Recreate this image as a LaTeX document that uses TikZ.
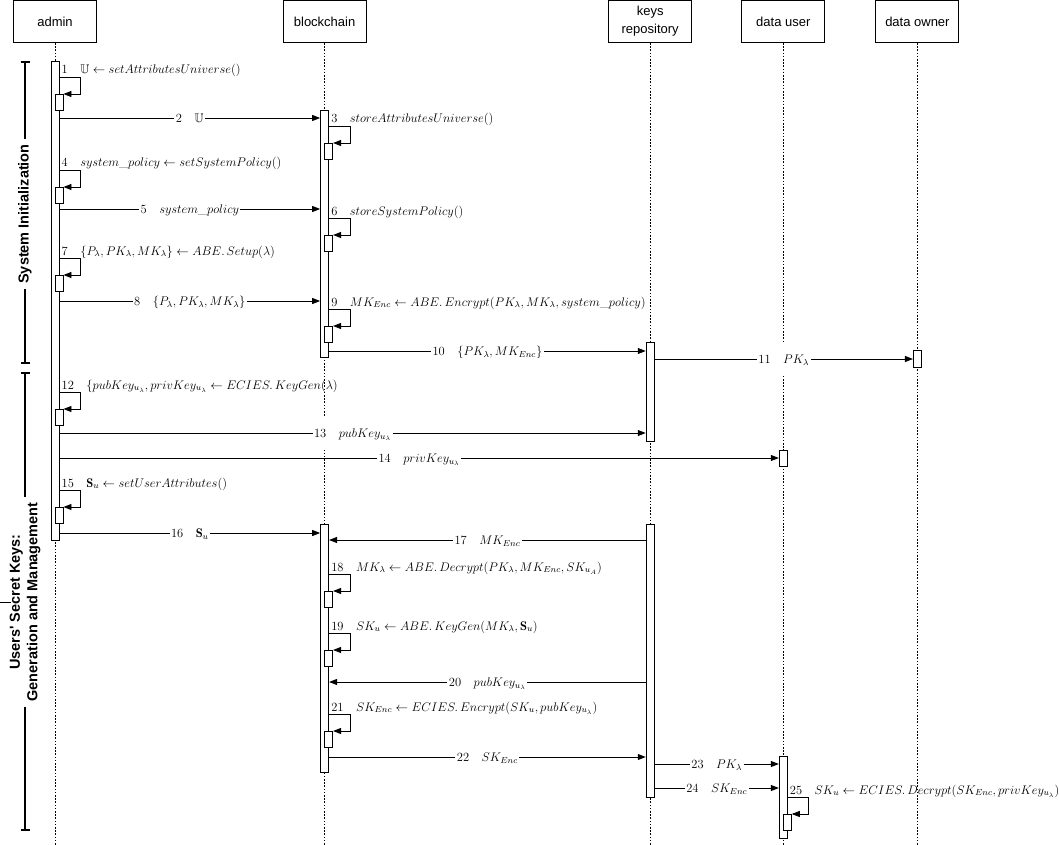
\RequirePackage{fix-cm}
\documentclass[tikz,border=0pt]{standalone}
\usepackage{amsmath,amssymb}
\usepackage{fontspec}
\newfontfamily\headfont{Liberation Sans}
\usetikzlibrary{positioning, arrows.meta}

\tikzset{
  head/.style={draw, line width=0.9pt, minimum width=83pt, minimum height=42pt, inner sep=2pt, align=center, font=\headfont\fontsize{13}{18}\selectfont},
  lifeline/.style={line width=0.9pt, dash pattern=on 1.6pt off 1.6pt},
  actbar/.style={draw, fill=white, line width=0.9pt, minimum width=8pt, inner sep=0pt, anchor=north},
  subbar/.style={actbar, minimum height=16pt},
  msg/.style={line width=0.9pt, -{Triangle[length=8pt,width=6pt]}},
  lbl/.style={fill=white, inner xsep=1.5pt, inner ysep=12.75pt, text height=8.5pt, text depth=0pt},
  selflbl/.style={anchor=base west, inner sep=0pt, xshift=2pt, yshift=3pt},
  phase/.style={rotate=90, align=center, inner xsep=5pt, font=\headfont\bfseries\fontsize{14.5}{17.5}\selectfont},
  bracket/.style={line width=1.6pt}
}

\newcommand{\selfcall}[5]{%
  \node[subbar, xshift=4pt] (#2) at (#1.center |- 0,#3+17) {};
  \draw[msg] (#1.east |- 0,#3) -- ++(21,0) -- ++(0,17) -- (#2.north east);
  \node[selflbl] at (#1.east |- 0,#3) {#4\quad #5};
}

\begin{document}
\begin{tikzpicture}[x=1pt, y=-1pt, font=\fontsize{12.5}{15}\selectfont]
    \useasboundingbox (0,0) rectangle (1059,845);

    \node[head] (admin) at (55,21.5) {admin};
    \node[head, right=185.7pt of admin] (chain) {blockchain};
    \node[head, right=241.7pt of chain] (keys) {keys\\repository};
    \node[head, right=49.2pt of keys] (user) {data user};
    \node[head, right=50.2pt of user] (owner) {data owner};

    \foreach \p in {admin,chain,keys,user,owner}
        \draw[lifeline] (\p.south) -- (\p.south |- 0,845);

    \node[actbar, minimum height=479pt] (adminbar) at (admin |- 0,61) {};
    \node[actbar, minimum height=247pt] (chainA) at (chain |- 0,110) {};
    \node[actbar, minimum height=248pt] (chainB) at (chain |- 0,524) {};
    \node[actbar, minimum height=99pt] (keysA) at (keys |- 0,342) {};
    \node[actbar, minimum height=273pt] (keysB) at (keys |- 0,524) {};
    \node[actbar, minimum height=16pt] (userA) at (user |- 0,450) {};
    \node[actbar, minimum height=82pt] (userB) at (user |- 0,756) {};
    \node[actbar, minimum height=17pt] (ownerA) at (owner |- 0,350) {};

    \selfcall{adminbar}{s1}{77}{1}{$\mathbb{U} \leftarrow setAttributesUniverse()$}
    \selfcall{chainA}{s3}{126}{3}{$storeAttributesUniverse()$}
    \selfcall{adminbar}{s4}{170}{4}{$system\_policy \leftarrow setSystemPolicy()$}
    \selfcall{chainA}{s6}{218}{6}{$storeSystemPolicy()$}
    \selfcall{adminbar}{s7}{258}{7}{$\{P_\lambda, PK_\lambda, MK_\lambda\} \leftarrow ABE.\,Setup(\lambda)$}
    \selfcall{chainA}{s9}{309}{9}{$MK_{Enc} \leftarrow ABE.\,Encrypt(PK_\lambda, MK_\lambda, system\_policy)$}
    \selfcall{adminbar}{s12}{392}{12}{$\{pubKey_{u_\lambda}, privKey_{u_\lambda} \leftarrow ECIES.\,KeyGen(\lambda)$}
    \selfcall{adminbar}{s15}{490}{15}{$\mathbf{S}_u \leftarrow setUserAttributes()$}
    \selfcall{chainB}{s18}{574}{18}{$MK_\lambda \leftarrow ABE.\,Decrypt(PK_\lambda, MK_{Enc}, SK_{u_A})$}
    \selfcall{chainB}{s19}{633}{19}{$SK_u \leftarrow ABE.\,KeyGen(MK_\lambda, \mathbf{S}_u)$}
    \selfcall{chainB}{s21}{714}{21}{$SK_{Enc} \leftarrow ECIES.\,Encrypt(SK_u, pubKey_{u_\lambda})$}
    \selfcall{userB}{s25}{797}{25}{$SK_u \leftarrow ECIES.\,Decrypt(SK_{Enc}, privKey_{u_\lambda})$}

    \draw[msg] (adminbar.east |- 0,118) -- node[lbl] {2\quad $\mathbb{U}$} (chainA.west |- 0,118);
    \draw[msg] (adminbar.east |- 0,209) -- node[lbl] {5\quad $system\_policy$} (chainA.west |- 0,209);
    \draw[msg] (adminbar.east |- 0,301) -- node[lbl] {8\quad $\{P_\lambda, PK_\lambda, MK_\lambda\}$} (chainA.west |- 0,301);
    \draw[msg] (chainA.east |- 0,351) -- node[lbl] {10\quad $\{PK_\lambda, MK_{Enc}\}$} (keysA.west |- 0,351);
    \draw[msg] (keysA.east |- 0,359) -- node[lbl] {11\quad $PK_\lambda$} (ownerA.west |- 0,359);
    \draw[msg] (adminbar.east |- 0,433) -- node[lbl] {13\quad $pubKey_{u_\lambda}$} (keysA.west |- 0,433);
    \draw[msg] (adminbar.east |- 0,458) -- node[lbl] {14\quad $privKey_{u_\lambda}$} (userA.west |- 0,458);
    \draw[msg] (adminbar.east |- 0,533) -- node[lbl] {16\quad $\mathbf{S}_u$} (chainB.west |- 0,533);
    \draw[msg] (keysB.west |- 0,540) -- node[lbl] {17\quad $MK_{Enc}$} (chainB.east |- 0,540);
    \draw[msg] (keysB.west |- 0,682) -- node[lbl] {20\quad $pubKey_{u_\lambda}$} (chainB.east |- 0,682);
    \draw[msg] (chainB.east |- 0,757) -- node[lbl] {22\quad $SK_{Enc}$} (keysB.west |- 0,757);
    \draw[msg] (keysB.east |- 0,764) -- node[lbl] {23\quad $PK_\lambda$} (userB.west |- 0,764);
    \draw[msg] (keysB.east |- 0,788) -- node[lbl] {24\quad $SK_{Enc}$} (userB.west |- 0,788);

    \node[phase] (init) at (25,214) {System Initialization};
    \coordinate (initTop) at (25,61);
    \coordinate (initEnd) at (25,364);
    \draw[bracket, {Bar[width=9pt]}-] (initTop) -- (init.east);
    \draw[bracket, -{Bar[width=9pt]}] (init.west) -- (initEnd);

    \node[phase] (keygen) at (25,602) {Users' Secret Keys:\\Generation and Management};
    \coordinate (keygenTop) at (25,372);
    \coordinate (keygenEnd) at (25,831);
    \draw[bracket, {Bar[width=9pt]}-] (keygenTop) -- (keygen.east);
    \draw[bracket, -{Bar[width=9pt]}] (keygen.west) -- (keygenEnd);
    \coordinate (tick) at (0,602);
    \draw[line width=0.8pt] (tick) -- ++(11,0);
\end{tikzpicture}
\end{document}
